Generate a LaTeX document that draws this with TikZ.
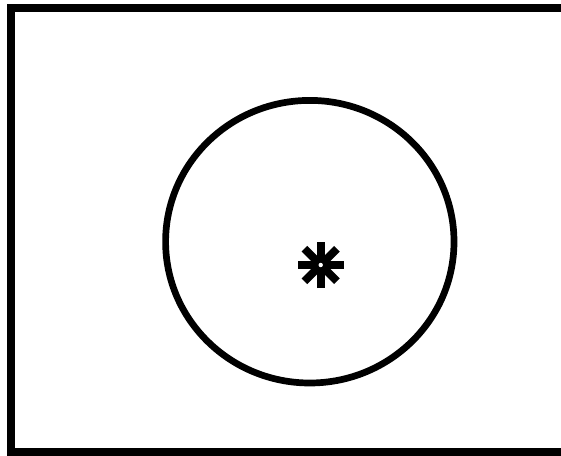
\documentclass[tikz,border=0pt]{standalone}
\usetikzlibrary{calc}
\begin{document}
\begin{tikzpicture}[x=1pt,y=-1pt,
  frame/.style={line width=8pt,draw=black},
  ring/.style={line width=6.7pt,draw=black},
  star/.style={line width=8pt,draw=black,line cap=butt}]
\useasboundingbox (0,0) rectangle (561,455);
\clip (0,0) rectangle (561,455);
\draw[frame] (11,8) rectangle (570,452);
\draw[ring] (309.8,241.7) ellipse [x radius=144.2, y radius=141.3];
\coordinate (c) at (320.7,265);
\foreach \a in {0,45,90,135}
  \draw[star] ($(c)+(\a:23)$) -- ($(c)+(\a+180:23)$);
\fill[white] (c) circle (2.2);
\end{tikzpicture}
\end{document}
